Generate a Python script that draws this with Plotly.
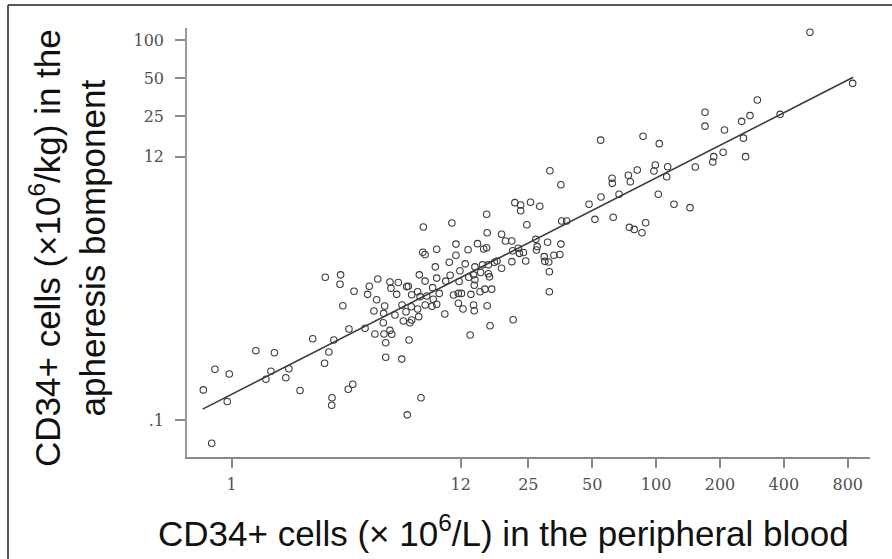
import plotly.graph_objects as go

# CD34+ cells in peripheral blood (x 10^6/L)
pb_cells = [
    531, 844, 384, 300, 277, 253, 170, 170, 210, 258, 264, 207, 187, 185, 153,
    54.8, 86.8, 103.5, 99.1, 97.7, 113.4, 112.2, 81.5, 74.0, 75.6, 62.0, 62.2,
    66.9, 55.0, 48.3, 102.4, 121.4, 144.5, 51.5, 62.8, 74.8, 78.9, 85.8, 89.3,
    31.6, 35.6, 21.6, 23.0, 23.0, 25.6, 28.3, 15.9, 10.9, 8.0, 35.9, 37.9, 24.6,
    16.0, 18.7, 11.4, 14.4, 13.0, 15.4, 15.9, 9.25, 7.95, 8.15, 19.5, 20.9, 27.1,
    22.4, 21.1, 22.7, 23.7, 27.5, 27.3, 30.8, 35.6, 33.0, 35.2, 29.7, 31.2, 29.9,
    24.3, 20.9, 11.4, 10.6, 12.6, 9.11, 14.0, 15.2, 16.2, 17.8, 17.3, 18.7, 11.9,
    13.8, 14.9, 16.2, 16.4, 31.4, 10.7, 9.25, 8.15, 7.66, 10.2, 11.8, 13.1, 14.0,
    13.9, 2.76, 3.26, 3.24, 3.77, 4.45, 4.88, 4.37, 5.57, 6.10, 6.68, 5.63, 6.80,
    4.82, 5.99, 7.05, 7.52, 7.72, 8.30, 8.85, 9.51, 8.91, 9.25, 11.1, 11.7, 12.1,
    13.4, 14.8, 15.6, 16.8, 31.4, 3.34, 5.26, 6.35, 7.02, 8.17, 7.52, 8.79, 11.7,
    12.3, 13.9, 13.8, 16.0, 4.68, 5.20, 5.88, 6.63, 7.61, 7.05, 6.92, 10.1, 6.44,
    5.18, 3.57, 4.25, 16.5, 21.2,
    0.735, 0.834, 0.974, 0.953, 0.805, 1.30, 1.59, 1.53, 1.45, 1.86, 1.80, 2.10,
    2.41, 3.03, 2.87, 2.74, 2.97, 2.96, 3.54, 3.72, 4.73, 5.22, 5.57, 5.68, 5.32,
    5.32, 6.33, 6.85, 7.80, 6.72, 13.3,
]

# CD34+ cells in the apheresis component (x 10^6/kg)
aph_cells = [
    115, 45.5, 25.9, 33.6, 25.3, 22.8, 26.9, 20.9, 19.5, 16.8, 12.0, 13.0, 12.0,
    10.9, 9.95, 16.2, 17.4, 15.2, 10.3, 9.25, 10.0, 8.34, 9.42, 8.55, 7.61, 8.10,
    7.39, 6.06, 5.77, 5.05, 6.06, 5.05, 4.75, 3.84, 3.99, 3.32, 3.20, 3.01, 3.61,
    9.30, 7.21, 5.20, 4.99, 4.49, 5.24, 4.87, 4.21, 3.59, 3.34, 3.73, 3.73, 3.48,
    3.01, 2.93, 2.45, 2.47, 2.21, 2.24, 2.29, 2.23, 2.11, 2.03, 2.59, 2.59, 2.67,
    2.27, 2.17, 2.07, 2.10, 2.34, 2.20, 2.53, 2.45, 2.00, 2.03, 1.95, 1.77, 1.79,
    1.80, 1.78, 2.00, 1.76, 1.71, 1.62, 1.62, 1.68, 1.68, 1.80, 1.76, 1.58, 1.51,
    1.40, 1.46, 1.43, 1.35, 1.48, 1.39, 1.32, 1.25, 1.40, 1.25, 1.24, 1.34, 1.28,
    1.16, 1.34, 1.40, 1.18, 1.04, 1.14, 1.30, 0.983, 1.23, 1.22, 1.13, 1.10, 1.14,
    0.892, 0.983, 0.976, 1.03, 0.942, 0.954, 1.11, 1.00, 0.898, 0.820, 0.971, 1.00,
    1.00, 0.983, 1.03, 1.08, 1.08, 1.03, 0.799, 0.795, 0.810, 0.785, 0.810, 0.753,
    0.791, 0.835, 0.753, 0.730, 0.810, 0.799, 0.726, 0.696, 0.675, 0.717, 0.655,
    0.617, 0.587, 0.688, 0.605, 0.587, 0.524, 0.530, 0.556, 0.620,
    0.173, 0.252, 0.231, 0.140, 0.0656, 0.353, 0.340, 0.243, 0.210, 0.254, 0.216,
    0.171, 0.439, 0.429, 0.345, 0.281, 0.150, 0.131, 0.175, 0.192, 0.478, 0.478,
    0.511, 0.476, 0.408, 0.313, 0.303, 0.429, 0.150, 0.110, 0.469,
]

# Regression line end points
fit_x = [0.73, 849]
fit_y = [0.122, 50.8]

x_ticks = [1, 12, 25, 50, 100, 200, 400, 800]
x_ticktext = ["1", "12", "25", "50", "100", "200", "400", "800"]
y_ticks = [0.1, 12, 25, 50, 100]
y_ticktext = [".1", "12", "25", "50", "100"]

fig = go.Figure()
fig.add_trace(go.Scatter(
    x=fit_x, y=fit_y, mode="lines",
    line=dict(color="#3a3a3a", width=1.6), showlegend=False, hoverinfo="skip"))
fig.add_trace(go.Scatter(
    x=pb_cells, y=aph_cells, mode="markers",
    marker=dict(symbol="circle-open", size=6.5, color="#3c3c3c",
                line=dict(width=1.1, color="#3c3c3c")),
    showlegend=False))

tick_font = dict(family="DejaVu Serif, Liberation Serif, serif", size=16, color="#505050")

fig.update_xaxes(
    type="log", range=[-0.2106, 3.008],
    tickvals=x_ticks, ticktext=x_ticktext,
    showgrid=False, zeroline=False,
    showline=True, linecolor="#8a8a8a", linewidth=1.5,
    ticks="outside", ticklen=9, tickwidth=1.5, tickcolor="#8a8a8a",
    tickfont=tick_font, ticklabelstandoff=3,
)
fig.update_yaxes(
    type="log", range=[-1.2914, 2.0947],
    tickvals=y_ticks, ticktext=y_ticktext,
    showgrid=False, zeroline=False,
    showline=True, linecolor="#9a9a9a", linewidth=1.5,
    ticks="outside", ticklen=10, tickwidth=1.5, tickcolor="#8a8a8a",
    tickfont=tick_font, ticklabelstandoff=8,
)

W, H = 892, 559
L, R, T, B = 187, 870, 28, 457
pw, ph = R - L, B - T

def px(x):
    return (x - L) / pw

def py(y):
    return (B - y) / ph

title_font = dict(family="Liberation Sans, Arial, sans-serif", size=35, color="#111111")

fig.add_annotation(
    x=px(503), y=py(531), xref="paper", yref="paper",
    text="CD34+ cells (× 10<sup>6</sup>/L) in the peripheral blood",
    showarrow=False, font=title_font, xanchor="center", yanchor="middle")
fig.add_annotation(
    x=px(68), y=py(248), xref="paper", yref="paper",
    text="CD34+ cells (×10<sup>6</sup>/kg) in the<br>apheresis bomponent",
    showarrow=False, font=title_font, textangle=-90,
    xanchor="center", yanchor="middle")

# image frame (left and top edges)
fig.add_shape(type="line", xref="paper", yref="paper",
              x0=px(8), x1=px(8), y0=py(5), y1=py(560),
              line=dict(color="#222222", width=1.5))
fig.add_shape(type="line", xref="paper", yref="paper",
              x0=px(8), x1=px(893), y0=py(5), y1=py(5),
              line=dict(color="#222222", width=1.5))

fig.update_layout(
    width=W, height=H,
    margin=dict(l=L, r=W - R, t=T, b=H - B, pad=0),
    paper_bgcolor="white", plot_bgcolor="white",
    showlegend=False,
)

fig.write_html(
    "out.html",
    config={"displayModeBar": False},
    post_script="document.body.style.margin='0';document.body.style.padding='0';",
)
